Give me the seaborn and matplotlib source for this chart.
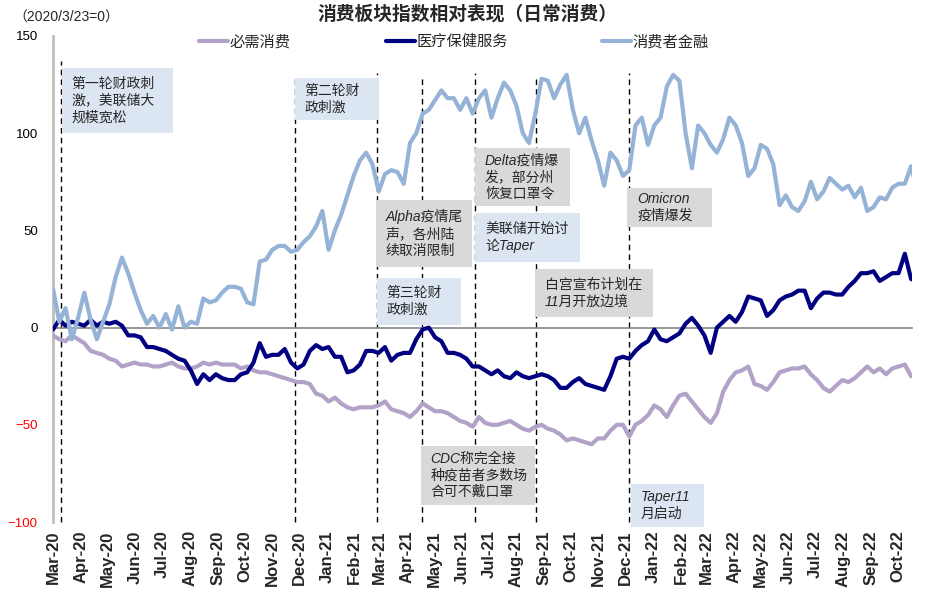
import pandas as pd
import seaborn as sns
import matplotlib
matplotlib.use("Agg")
import matplotlib.pyplot as plt
import matplotlib.dates as mdates
from matplotlib.patches import Rectangle

# weekly readings, starting 2020/3/23 (=0)
start_date = "2020-03-23"

staples = [
    -4, -6, -7, -4, -6, -8, -12, -13, -14, -16,
    -17, -20, -19, -18, -19, -19, -20, -20, -19, -18,
    -20, -21, -21, -20, -18, -19, -18, -19, -19, -19,
    -21, -20, -22, -23, -23, -24, -25, -26, -27, -28,
    -28, -29, -34, -35, -38, -36, -39, -41, -42, -41,
    -41, -41, -40, -38, -42, -43, -44, -46, -43, -39,
    -41, -43, -43, -44, -46, -48, -49, -51, -46, -49,
    -50, -50, -49, -48, -50, -52, -53, -51, -50, -52,
    -53, -55, -58, -57, -58, -59, -60, -57, -57, -53,
    -50, -50, -56, -50, -48, -45, -40, -42, -46, -40,
    -35, -34, -38, -42, -46, -49, -44, -33, -27, -23,
    -22, -20, -29, -30, -32, -28, -23, -22, -21, -21,
    -20, -24, -27, -31, -33, -30, -27, -28, -26, -23,
    -20, -23, -21, -24, -21, -20, -19, -25, -23,
]

healthcare = [
    -1, 4, 1, 3, 2, 1, 4, 1, 3, 2,
    3, 1, -4, -4, -5, -10, -10, -11, -12, -14,
    -16, -17, -22, -29, -24, -27, -24, -26, -27, -27,
    -24, -23, -18, -8, -15, -14, -14, -11, -18, -21,
    -19, -12, -9, -11, -10, -15, -15, -23, -22, -19,
    -12, -12, -13, -10, -17, -14, -13, -13, -6, -1,
    0, -5, -7, -13, -13, -14, -16, -20, -20, -22,
    -24, -22, -25, -26, -23, -25, -26, -25, -24, -25,
    -27, -31, -31, -28, -26, -29, -30, -31, -32, -25,
    -16, -15, -16, -12, -9, -7, -1, -6, -7, -5,
    -3, 2, 5, 1, -4, -13, 0, 3, 6, 3,
    8, 16, 15, 14, 6, 9, 14, 16, 17, 19,
    19, 10, 15, 18, 18, 17, 17, 21, 24, 28,
    28, 29, 24, 26, 28, 28, 38, 25, 24,
]

consumer_finance = [
    20, 3, 10, -6, 5, 18, 4, -6, 3, 12,
    26, 36, 28, 18, 9, 2, 6, 0, 7, -1,
    11, 0, 3, 2, 15, 13, 14, 18, 21, 21,
    20, 13, 12, 34, 35, 40, 42, 42, 39, 40,
    44, 47, 52, 60, 40, 50, 58, 68, 78, 86,
    90, 84, 70, 79, 81, 80, 74, 95, 100, 110,
    112, 117, 122, 118, 118, 112, 118, 110, 118, 122,
    108, 118, 126, 122, 114, 100, 95, 110, 128, 127,
    118, 125, 130, 112, 100, 108, 96, 86, 73, 90,
    86, 78, 81, 104, 108, 94, 104, 108, 124, 130,
    127, 100, 82, 104, 100, 94, 90, 97, 108, 104,
    95, 78, 82, 94, 92, 84, 63, 68, 62, 60,
    65, 75, 66, 70, 77, 74, 71, 73, 67, 72,
    60, 62, 67, 66, 72, 74, 74, 83, 70,
]

series_names = ["必需消费", "医疗保健服务", "消费者金融"]
series_colors = ["#b3a2c7", "#000080", "#95b3d7"]

# event dates (dashed lines)
event_dates = ["2020-04-01", "2020-12-18", "2021-03-20", "2021-05-09",
               "2021-07-08", "2021-09-14", "2021-12-27"]
event_tops = [137, 130, 131, 130, 131, 128, 131]

# annotation boxes: text, left date, right date, top, bottom, fill
notes = [
    ("第一轮财政刺\n激，美联储大\n规模宽松", "2020-04-02", "2020-08-04", 133.5, 100, "#dce6f2"),
    ("第二轮财\n政刺激", "2020-12-18", "2021-03-22", 128.4, 106.7, "#dce6f2"),
    ("Alpha疫情尾\n声，各州陆\n续取消限制", "2021-03-19", "2021-07-04", 65.5, 31.4, "#d9d9d9"),
    ("第三轮财\n政刺激", "2021-03-20", "2021-06-22", 25.3, 1.5, "#dce6f2"),
    ("Delta疫情爆\n发，部分州\n恢复口罩令", "2021-07-08", "2021-10-22", 92.3, 62.4, "#d9d9d9"),
    ("美联储开始讨\n论Taper", "2021-07-08", "2021-11-02", 58.8, 34, "#dce6f2"),
    ("白宫宣布计划在\n11月开放边境", "2021-09-13", "2022-01-23", 29.9, 5.2, "#d9d9d9"),
    ("Omicron\n疫情爆发", "2021-12-25", "2022-03-30", 71.6, 52, "#d9d9d9"),
    ("CDC称完全接\n种疫苗者多数场\n合可不戴口罩", "2021-05-08", "2021-09-13", -60.8, -91.2, "#d9d9d9"),
    ("Taper11\n月启动", "2021-12-29", "2022-03-20", -80.4, -102.5, "#dce6f2"),
]

month_ticks = pd.date_range("2020-03-23", "2022-10-23", freq=pd.DateOffset(months=1))

sns.set_style("white")
plt.rcParams["font.family"] = ["Liberation Sans", "Noto Sans CJK SC"]

dates = pd.date_range(start_date, periods=len(staples), freq="7D")
df = pd.DataFrame({
    "date": list(dates) * 3,
    "value": staples + healthcare + consumer_finance,
    "series": [series_names[0]] * len(staples)
    + [series_names[1]] * len(healthcare)
    + [series_names[2]] * len(consumer_finance),
})

fig = plt.figure(figsize=(9.27, 5.93), dpi=100)
ax = fig.add_axes([0.0572, 0.1197, 0.9266, 0.8196])

sns.lineplot(data=df, x="date", y="value", hue="series", hue_order=series_names,
             palette=series_colors, linewidth=3, ax=ax, zorder=4)

ax.set_xlim(pd.Timestamp("2020-03-23"), pd.Timestamp("2022-11-08"))
ax.set_ylim(-100, 150)
ax.set_xlabel("")
ax.set_ylabel("")

# event lines
for d, top in zip(event_dates, event_tops):
    ax.plot([pd.Timestamp(d)] * 2, [-100, top], color="black", lw=1,
            ls=(0, (4, 3)), zorder=2, clip_on=False)

# annotation boxes
for text, x0, x1, top, bottom, fill in notes:
    x0 = mdates.date2num(pd.Timestamp(x0))
    x1 = mdates.date2num(pd.Timestamp(x1))
    ax.add_patch(Rectangle((x0, bottom), x1 - x0, top - bottom, facecolor=fill,
                           edgecolor="none", zorder=3, clip_on=False))
    ax.annotate(text, xy=(x0, (top + bottom) / 2), xytext=(7, 0),
                textcoords="offset points", ha="left", va="center",
                fontsize=10, style="italic", linespacing=1.25, zorder=3.5,
                annotation_clip=False)

# axes styling
for side in ["top", "right"]:
    ax.spines[side].set_visible(False)
ax.spines["left"].set_color("#bfbfbf")
ax.spines["left"].set_linewidth(2)
ax.spines["bottom"].set_position(("data", 0))
ax.spines["bottom"].set_color("#868686")
ax.spines["bottom"].set_linewidth(1.2)

ax.set_xticks(month_ticks)
ax.tick_params(axis="x", direction="in", length=4, color="#868686", labelbottom=False)
ax.set_yticks([-100, -50, 0, 50, 100, 150])
ax.tick_params(axis="y", direction="in", length=4, color="#bfbfbf", pad=11, labelsize=9.5)
for lab in ax.get_yticklabels():
    lab.set_color("red" if lab.get_position()[1] < 0 else "black")

secax = ax.secondary_xaxis("bottom")
secax.set_xticks(mdates.date2num(month_ticks))
secax.set_xticklabels([d.strftime("%b-%y") for d in month_ticks],
                      rotation=90, fontweight="bold", fontsize=12)
secax.tick_params(length=0, pad=6)
secax.spines["bottom"].set_visible(False)

# legend
handles, labels = ax.get_legend_handles_labels()
ax.legend(handles, labels, loc="center", bbox_to_anchor=(0.49, 0.929),
          bbox_transform=fig.transFigure, ncol=3, frameon=False, fontsize=11,
          handlelength=1.9, handletextpad=0.1, columnspacing=6.2)

fig.text(0.504, 0.976, "消费板块指数相对表现（日常消费）", ha="center", va="center",
         fontsize=13.5, fontweight="bold")
fig.text(0.014, 0.971, "（2020/3/23=0）", ha="left", va="center", fontsize=10)

fig.savefig("out.png", dpi=100)
